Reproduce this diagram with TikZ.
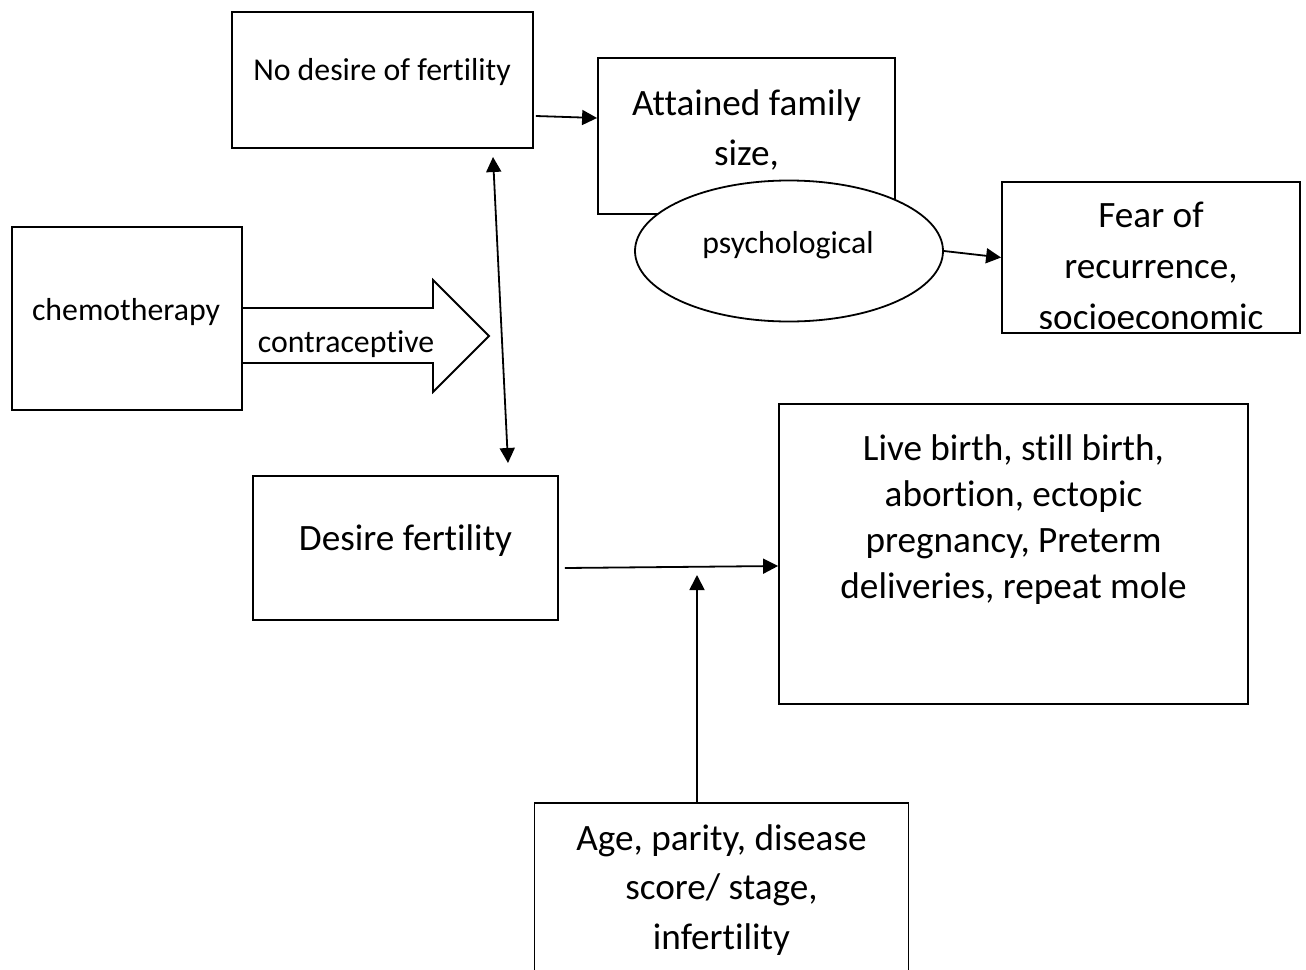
\documentclass[tikz,border=0pt]{standalone}
\usepackage{fontspec}
\setmainfont{Carlito}[Ligatures={NoCommon,NoRare,NoContextual}]
\usetikzlibrary{arrows.meta,calc,shapes.geometric}

\begin{document}
\begin{tikzpicture}[x=1pt,y=-1pt,
    box/.style={draw,line width=1.8pt,inner sep=0pt},
    big/.style={font=\fontsize{37.2}{46}\selectfont,align=center,inner sep=0pt,anchor=north},
    small/.style={font=\fontsize{31.8}{38}\selectfont,align=center,inner sep=0pt,anchor=north},
    arr/.style={line width=1.8pt,-{Triangle[length=15pt,width=15pt]}},
    dblarr/.style={line width=1.8pt,{Triangle[length=15pt,width=15pt]}-{Triangle[length=15pt,width=15pt]}}]
    \useasboundingbox (0,0) rectangle (1306,969);
    % Boxes
    \node[box,minimum width=301,minimum height=136] (N) at (382.5,80) {};
    \node[box,minimum width=297,minimum height=156] (A) at (746.5,136) {};
    \node[box,minimum width=298,minimum height=151] (F) at (1151,257.5) {};
    \node[box,minimum width=230,minimum height=183] (C) at (127,318.5) {};
    \node[box,minimum width=305,minimum height=144] (D) at (405.5,548) {};
    \node[box,minimum width=469,minimum height=300] (L) at (1013.5,554) {};
    \node[box,minimum width=374,minimum height=197] (G) at (721.5,901.5) {};
    \node[draw,fill=white,ellipse,line width=1.8pt,minimum width=308,minimum height=141,inner sep=0pt] (P) at (789,251) {};
    % Labels
    \node[small] (Nt) at (382,58) {No desire of fertility};
    \node[big,font=\fontsize{37.2}{50}\selectfont] (At) at (746.5,89) {Attained family\\size,};
    \node[small] (Pt) at (788,231) {psychological};
    \begin{scope}
        \clip (F.north west) rectangle ($(F.south east)+(0,-5)$);
        \node[big,font=\fontsize{37.2}{51}\selectfont] (Ft) at (1151,202) {Fear of\\recurrence,\\socioeconomic};
    \end{scope}
    \node[small] (Ct) at (126,298) {chemotherapy};
    \node[big] (Dt) at (405.5,524) {Desire fertility};
    \node[big] (Lt) at (1013.5,434) {Live birth, still birth,\\abortion, ectopic\\pregnancy, Preterm\\deliveries, repeat mole};
    \node[big,font=\fontsize{37.2}{49.5}\selectfont] (Gt) at (721.5,824) {Age, parity, disease\\score/ stage,\\infertility};
    % Block arrow
    \coordinate (S1) at (C.east |- 0,308);
    \coordinate (S2) at (433,308);
    \coordinate (H1) at (433,280);
    \coordinate (T) at (489,336);
    \coordinate (H2) at (433,392);
    \coordinate (S3) at (433,363);
    \coordinate (S4) at (C.east |- 0,363);
    \draw[line width=1.8pt,line join=miter] (S1) -- (S2) -- (H1) -- (T) -- (H2) -- (S3) -- (S4);
    \node[small] (Kt) at (346,330) {contraceptive};
    % Connectors
    \coordinate (U) at (493,157);
    \coordinate (B) at (508,463);
    \draw[dblarr] (U) -- (B);
    \draw[arr] ($(N.east)+(2,36)$) -- ($(A.west)+(0,-18)$);
    \draw[arr] (P.east) -- (F.west);
    \coordinate (M) at (697,575);
    \draw[arr] ($(D.east)+(6,20)$) -- ($(L.west)+(0,12)$);
    \draw[arr] (G.north -| M) -- (M);
\end{tikzpicture}
\end{document}
